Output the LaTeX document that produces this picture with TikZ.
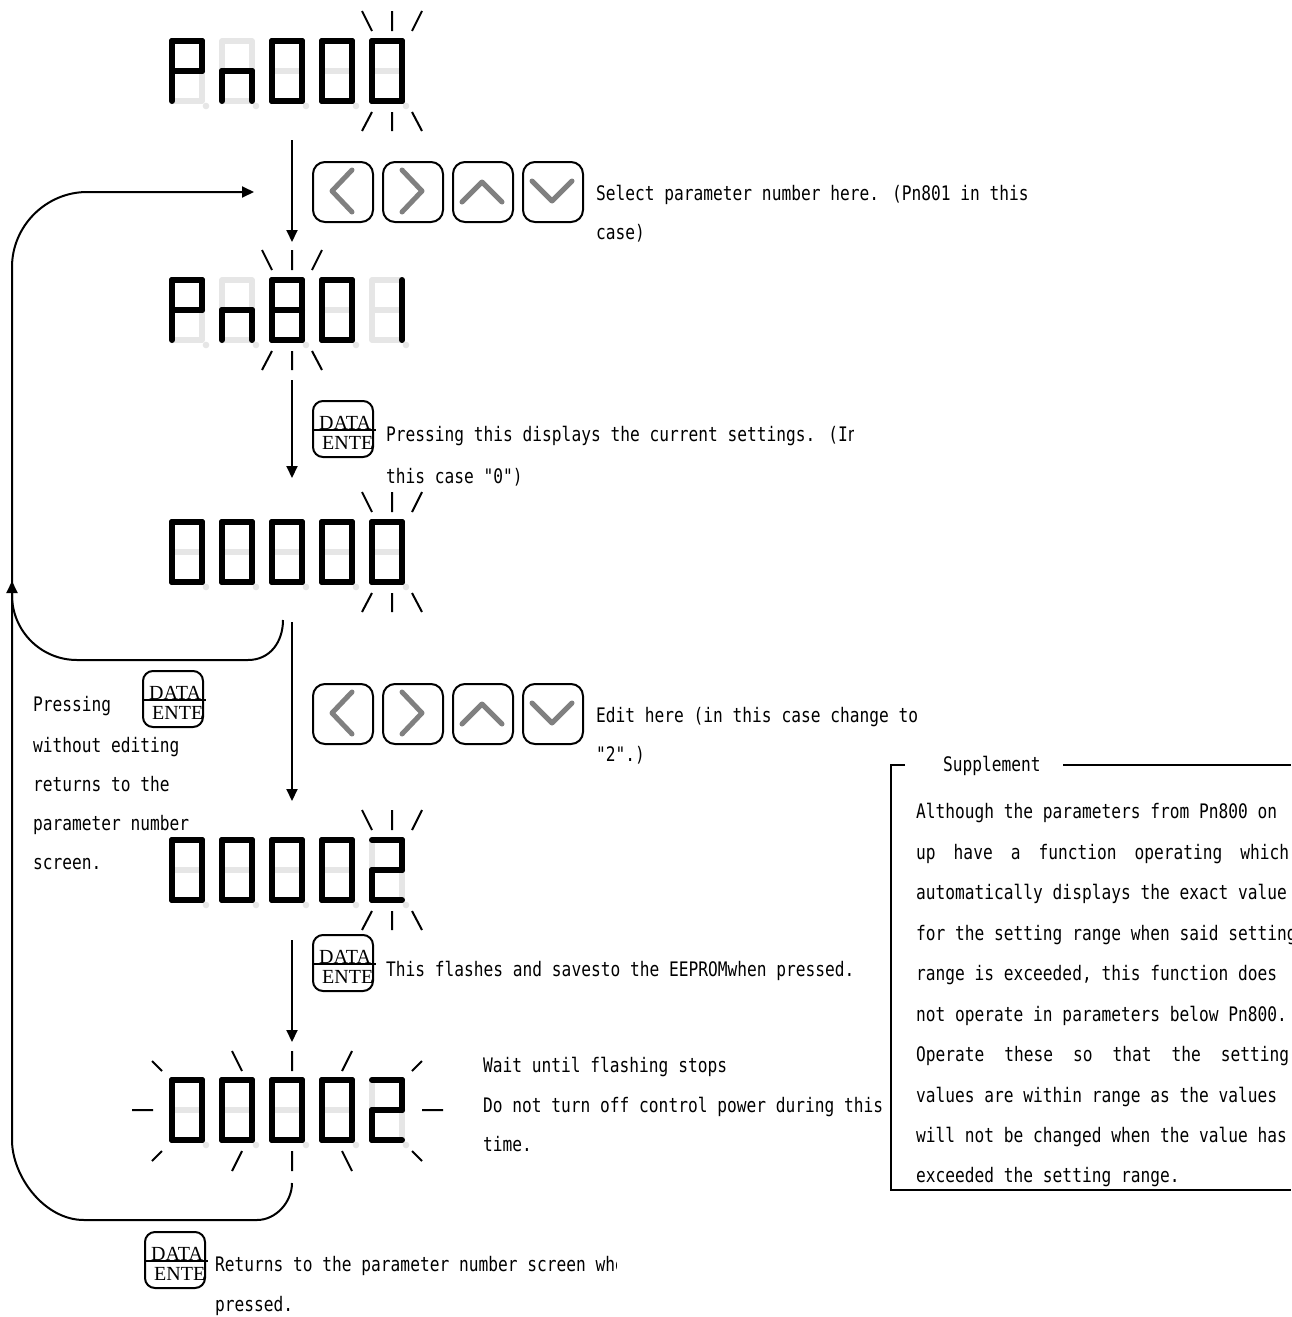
\documentclass[tikz,border=0pt]{standalone}
\usepackage{fontspec}
\newfontfamily\tfont[FakeStretch=0.81]{DejaVu Sans Mono}
\newfontfamily\dfont{Liberation Serif}
\usetikzlibrary{arrows.meta,calc}
\definecolor{segg}{HTML}{E6E6E6}
\definecolor{chevg}{HTML}{808080}
\tikzset{
  seggray/.style={line width=5.5pt, draw=segg, line cap=round},
  segblk/.style={line width=6pt, draw=black, line cap=round},
  rayln/.style={line width=2pt, draw=black},
  conn/.style={line width=2pt, draw=black},
  arr/.style={conn, -{Triangle[length=12pt,width=11pt]}},
  txt/.style={anchor=base west, inner sep=0pt, font=\tfont\fontsize{20}{22}\selectfont},
  dtext/.style={anchor=base west, inner sep=0pt, font=\dfont\fontsize{20}{22}\selectfont},
  dbox/.style={draw, rounded corners=10pt, line width=2pt, minimum width=60pt, minimum height=56pt, inner sep=0pt, anchor=north west},
  abox/.style={draw, rounded corners=12pt, line width=2pt, minimum width=60pt, minimum height=60pt, inner sep=0pt, anchor=north west},
  chev/.style={line width=5pt, draw=chevg, line cap=round, line join=round},
}
\newcommand\segdigit[3]{%
  \pgfmathsetmacro\sgL{#1}%
  \pgfmathsetmacro\sgR{#1+30}%
  \pgfmathsetmacro\sgT{#2}%
  \pgfmathsetmacro\sgM{#2+30}%
  \pgfmathsetmacro\sgB{#2+60}%
  \fill[segg] (\sgR+4,\sgB+5) circle[radius=3.3pt];
  \draw[seggray] (\sgL,\sgT)--(\sgR,\sgT) (\sgR,\sgT)--(\sgR,\sgM) (\sgR,\sgM)--(\sgR,\sgB)
     (\sgL,\sgB)--(\sgR,\sgB) (\sgL,\sgM)--(\sgL,\sgB) (\sgL,\sgT)--(\sgL,\sgM) (\sgL,\sgM)--(\sgR,\sgM);
  \segparse#3\relax}
\def\segparse#1#2#3#4#5#6#7\relax{%
  \ifnum#1=1 \draw[segblk] (\sgL,\sgT)--(\sgR,\sgT);\fi
  \ifnum#2=1 \draw[segblk] (\sgR,\sgT)--(\sgR,\sgM);\fi
  \ifnum#3=1 \draw[segblk] (\sgR,\sgM)--(\sgR,\sgB);\fi
  \ifnum#4=1 \draw[segblk] (\sgL,\sgB)--(\sgR,\sgB);\fi
  \ifnum#5=1 \draw[segblk] (\sgL,\sgM)--(\sgL,\sgB);\fi
  \ifnum#6=1 \draw[segblk] (\sgL,\sgT)--(\sgL,\sgM);\fi
  \ifnum#7=1 \draw[segblk] (\sgL,\sgM)--(\sgR,\sgM);\fi}
\newcommand\segrow[6]{%
  \segdigit{172}{#1}{#2}\segdigit{222}{#1}{#3}\segdigit{272}{#1}{#4}%
  \segdigit{322}{#1}{#5}\segdigit{372}{#1}{#6}}
\newcommand\raystop[2]{\draw[rayln] (#1-30,#2-30)--(#1-20,#2-10) (#1,#2-30)--(#1,#2-10) (#1+30,#2-30)--(#1+20,#2-10);}
\newcommand\raysbot[2]{\draw[rayln] (#1-20,#2+11)--(#1-30,#2+30) (#1,#2+11)--(#1,#2+30) (#1+20,#2+11)--(#1+30,#2+30);}
\newcommand\abtn[4]{%
  \node[abox] (#1) at (#2,#3) {};
  \begin{scope}[shift={(#2,#3)}]\draw[chev] #4;\end{scope}}
\newcommand\databtn[3]{%
  \node[dbox] (#1) at (#2,#3) {};
  \draw[line width=1.5pt] (#2,#3+30) -- (#2+64,#3+30);
  \node[dtext] (#1-d) at (#2+7,#3+29) {DATA};
  \node[dtext] (#1-e) at (#2+10,#3+49) {ENTE};}
\begin{document}
\begin{tikzpicture}[x=1pt,y=-1pt]
\useasboundingbox (0,0) rectangle (1291,1317);
\fill[white] (0,0) rectangle (1291,1317);

% ---------- displays ----------
\segrow{41}{1100111}{0010101}{1111110}{1111110}{1111110}
\raystop{392}{41}\raysbot{392}{101}
\segrow{280}{1100111}{0010101}{1111111}{1111110}{0110000}
\raystop{292}{280}\raysbot{292}{340}
\segrow{522}{1111110}{1111110}{1111110}{1111110}{1111110}
\raystop{392}{522}\raysbot{392}{582}
\segrow{840}{1111110}{1111110}{1111110}{1111110}{1101101}
\raystop{392}{840}\raysbot{392}{900}
\segrow{1080}{1111110}{1111110}{1111110}{1111110}{1101101}
\draw[rayln] (132,1110)--(153,1110) (422,1110)--(443,1110)
  (152,1061)--(162,1071) (422,1061)--(412,1071)
  (232,1051)--(242,1071) (292,1051)--(292,1071) (352,1051)--(342,1071)
  (162,1151)--(152,1161) (242,1151)--(232,1171) (292,1151)--(292,1171)
  (342,1151)--(352,1171) (412,1151)--(422,1161);

% ---------- arrow buttons ----------
\abtn{bl1}{312}{161}{(40,9)--(20,30)--(40,51)}
\abtn{br1}{382}{161}{(20,9)--(40,30)--(20,51)}
\abtn{bu1}{452}{161}{(10,41)--(30,21)--(50,41)}
\abtn{bd1}{522}{161}{(10,20)--(30,40)--(50,20)}
\abtn{bl2}{312}{683}{(40,9)--(20,30)--(40,51)}
\abtn{br2}{382}{683}{(20,9)--(40,30)--(20,51)}
\abtn{bu2}{452}{683}{(10,41)--(30,21)--(50,41)}
\abtn{bd2}{522}{683}{(10,20)--(30,40)--(50,20)}

% ---------- data/enter buttons ----------
\databtn{db1}{312}{400}
\databtn{dbl}{142}{670}
\databtn{db2}{312}{934}
\databtn{dbb}{144}{1231}

% ---------- connectors ----------
\coordinate (a1s) at (292,140); \coordinate (a1e) at (292,242);
\coordinate (a2s) at (292,380); \coordinate (a2e) at (292,478);
\coordinate (a3s) at (292,622); \coordinate (a3e) at (292,801);
\coordinate (a4s) at (292,940); \coordinate (a4e) at (292,1042);
\draw[arr] (a1s)--(a1e);
\draw[arr] (a2s)--(a2e);
\draw[arr] (a3s)--(a3e);
\draw[arr] (a4s)--(a4e);
\coordinate (lp2s) at (283,620); \coordinate (lp2e) at (12,581);
\draw[arr] (lp2s) .. controls (283,642) and (270,660) .. (248,660) -- (77,660)
  .. controls (41,660) and (12,631) .. (12,595) -- (lp2e);
\coordinate (lp1s) at (292,1183); \coordinate (lp1e) at (254,192);
\draw[arr] (lp1s) .. controls (292,1202) and (276,1220) .. (257,1220) -- (84,1220)
  .. controls (44,1220) and (12,1176) .. (12,1140) -- (12,267)
  .. controls (12,226) and (46,192) .. (87,192) -- (lp1e);

% ---------- texts ----------
\node[txt] (t1) at (596,200) {Select parameter number here. (Pn801 in this};
\node[txt] (t2) at (596,239) {case)};
\begin{scope}
\clip (380,400) rectangle (853,500);
\node[txt] (t3) at (386,441) {Pressing this displays the current settings. (In};
\end{scope}
\node[txt] (t4) at (386,483) {this case "0")};
\node[txt] (t5) at (596,722) {Edit here (in this case change to};
\node[txt] (t6) at (596,761) {"2".)};
\node[txt] (t7) at (386,976) {This flashes and savesto the EEPROMwhen pressed.};
\node[txt] (t8) at (483,1072) {Wait until flashing stops};
\node[txt] (t9) at (483,1112) {Do not turn off control power during this};
\node[txt] (t10) at (483,1151) {time.};
\begin{scope}
\clip (210,1245) rectangle (616,1290);
\node[txt] (t11) at (215,1271) {Returns to the parameter number screen when};
\end{scope}
\node[txt] (t12) at (215,1311) {pressed.};
\node[txt] (l1) at (33,711) {Pressing};
\node[txt] (l2) at (33,752) {without editing};
\node[txt] (l3) at (33,791) {returns to the};
\node[txt] (l4) at (33,830) {parameter number};
\node[txt] (l5) at (33,869) {screen.};

% ---------- supplement ----------
\draw[conn] (905,765) -- (891,765) -- (891,1190) -- (1291,1190);
\draw[conn] (1063,765) -- (1291,765);
\node[txt] (sh) at (943,771) {Supplement};
\begin{scope}
\clip (900,780) rectangle (1291,1188);
\node[txt] (s1) at (916,818) {Although the parameters from Pn800 on};
\node[txt] (s2) at (916,859) {\hbox to 373pt{up\hfill have\hfill a\hfill function\hfill operating\hfill which}};
\node[txt] (s3) at (916,899) {automatically displays the exact value};
\node[txt] (s4) at (916,940) {for the setting range when said setting};
\node[txt] (s5) at (916,980) {range is exceeded, this function does};
\node[txt] (s6) at (916,1021) {not operate in parameters below Pn800.};
\node[txt] (s7) at (916,1061) {\hbox to 373pt{Operate\hfill these\hfill so\hfill that\hfill the\hfill setting}};
\node[txt] (s8) at (916,1102) {values are within range as the values};
\node[txt] (s9) at (916,1142) {will not be changed when the value has};
\node[txt] (s10) at (916,1182) {exceeded the setting range.};
\end{scope}
\end{tikzpicture}
\end{document}
